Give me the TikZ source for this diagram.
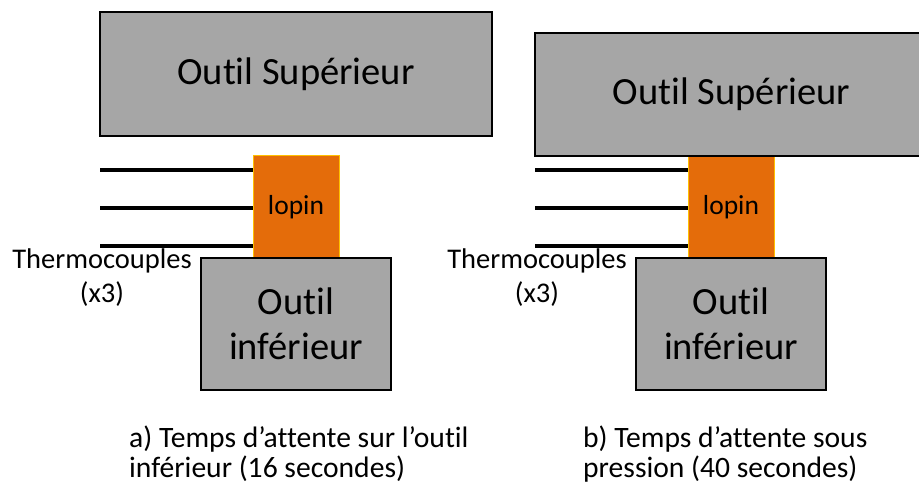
\documentclass[tikz,border=0pt]{standalone}
\usepackage{fontspec}
\setmainfont[Ligatures=NoCommon,RawFeature={-liga;-clig;-dlig}]{Carlito}
\definecolor{toolgray}{HTML}{A6A6A6}
\definecolor{lopinorange}{HTML}{E46C0A}
\definecolor{lopinedge}{HTML}{FFC000}
\begin{document}
\begin{tikzpicture}[x=1pt,y=-1pt,
  toolbox/.style={draw=black,line width=1.8pt,fill=toolgray,inner sep=0pt,align=center,
    font=\fontsize{38.5}{45}\selectfont},
  lopinbox/.style={draw=lopinedge,line width=1pt,fill=lopinorange,inner sep=0pt,
    minimum width=86pt,minimum height=102pt,font=\fontsize{27.5}{33}\selectfont},
  tcwire/.style={draw=black,line width=3.2pt},
  tclabel/.style={anchor=base,inner sep=0pt,font=\fontsize{28.5}{34}\selectfont},
  caption/.style={anchor=base west,inner sep=0pt,font=\fontsize{29.6}{30}\selectfont}]
\useasboundingbox (0,0) rectangle (919,484);
\fill[white] (0,0) rectangle (919,484);
% ---------- panel a ----------
\node[lopinbox] (lopA) at (296,207) {lopin};
\node[toolbox,minimum width=392pt,minimum height=124pt] (supA) at (296,74) {Outil Supérieur};
\node[toolbox,minimum width=190pt,minimum height=132pt] (infA) at (296,324) {Outil\\inférieur};
\coordinate (wA1) at (100,170);
\coordinate (wA2) at (100,208);
\coordinate (wA3) at (100,246);
\draw[tcwire] (wA1) -- (wA1 -| lopA.west);
\draw[tcwire] (wA2) -- (wA2 -| lopA.west);
\draw[tcwire] (wA3) -- (wA3 -| lopA.west);
\node[tclabel] (tcA1) at (102,268) {Thermocouples};
\node[tclabel] (tcA2) at (102,302) {(x3)};
\node[caption] (capA1) at (129,447) {a) Temps d’attente sur l’outil};
\node[caption] (capA2) at (129,477) {inférieur (16 secondes)};
% ---------- panel b ----------
\node[lopinbox] (lopB) at (731,207) {lopin};
\node[toolbox,minimum width=393pt,minimum height=123pt] (supB) at (731.5,94.5) {Outil Supérieur};
\node[toolbox,minimum width=190pt,minimum height=132pt] (infB) at (731,324) {Outil\\inférieur};
\coordinate (wB1) at (535,170);
\coordinate (wB2) at (535,208);
\coordinate (wB3) at (535,246);
\draw[tcwire] (wB1) -- (wB1 -| lopB.west);
\draw[tcwire] (wB2) -- (wB2 -| lopB.west);
\draw[tcwire] (wB3) -- (wB3 -| lopB.west);
\node[tclabel] (tcB1) at (537,268) {Thermocouples};
\node[tclabel] (tcB2) at (537,302) {(x3)};
\node[caption] (capB1) at (583,447) {b) Temps d’attente sous};
\node[caption] (capB2) at (583,477) {pression (40 secondes)};
\end{tikzpicture}
\end{document}
